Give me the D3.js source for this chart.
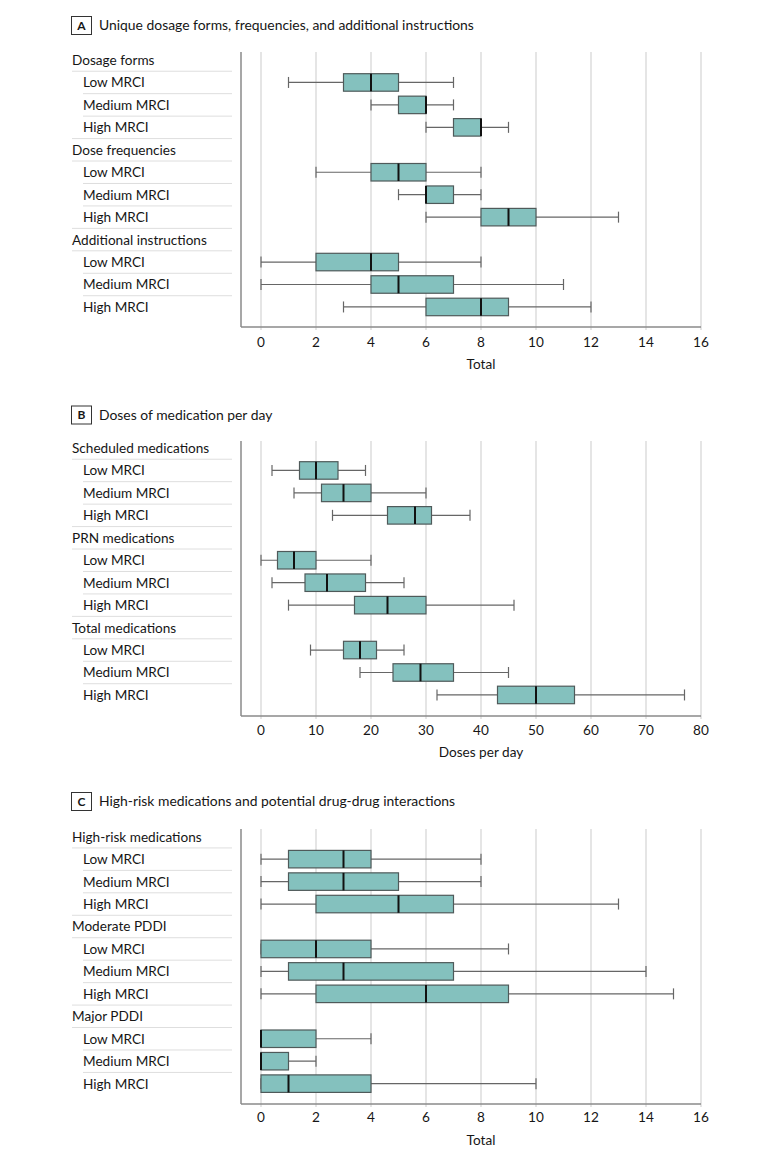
<!DOCTYPE html>
<html><head><meta charset="utf-8">
<script src="https://cdn.jsdelivr.net/npm/d3@7"></script>
<style>body{margin:0;background:#fff;} svg{display:block;}</style>
</head><body>
<svg id="chart" width="780" height="1158"></svg>
<script>
// ---------- data ----------
const panelLetters = ["A", "B", "C"];
const panelTitles = [
  "Unique dosage forms, frequencies, and additional instructions",
  "Doses of medication per day",
  "High-risk medications and potential drug-drug interactions"
];
const axisTitles = ["Total", "Doses per day", "Total"];
const subgroups = ["Low MRCI", "Medium MRCI", "High MRCI"];
const groupsA = ["Dosage forms", "Dose frequencies", "Additional instructions"];
const groupsB = ["Scheduled medications", "PRN medications", "Total medications"];
const groupsC = ["High-risk medications", "Moderate PDDI", "Major PDDI"];
// [whisker low, Q1, median, Q3, whisker high]
const statsA = [
  [1, 3, 4, 5, 7], [4, 5, 6, 6, 7], [6, 7, 8, 8, 9],
  [2, 4, 5, 6, 8], [5, 6, 6, 7, 8], [6, 8, 9, 10, 13],
  [0, 2, 4, 5, 8], [0, 4, 5, 7, 11], [3, 6, 8, 9, 12]
];
const statsB = [
  [2, 7, 10, 14, 19], [6, 11, 15, 20, 30], [13, 23, 28, 31, 38],
  [0, 3, 6, 10, 20], [2, 8, 12, 19, 26], [5, 17, 23, 30, 46],
  [9, 15, 18, 21, 26], [18, 24, 29, 35, 45], [32, 43, 50, 57, 77]
];
const statsC = [
  [0, 1, 3, 4, 8], [0, 1, 3, 5, 8], [0, 2, 5, 7, 13],
  [0, 0, 2, 4, 9], [0, 1, 3, 7, 14], [0, 2, 6, 9, 15],
  [0, 0, 0, 2, 4], [0, 0, 0, 1, 2], [0, 0, 1, 4, 10]
];
const ticksA = [0, 2, 4, 6, 8, 10, 12, 14, 16];
const ticksB = [0, 10, 20, 30, 40, 50, 60, 70, 80];
const ticksC = [0, 2, 4, 6, 8, 10, 12, 14, 16];

// ---------- layout ----------
const FONT = "Lato, 'Open Sans', sans-serif";
const TXT = "#161616";
const layouts = [
  {titleY: 25,    axisTop: 52,  row0: 60,    axisBottom: 327,  tickY: 342,  labelY: 364},
  {titleY: 414.5, axisTop: 441, row0: 448,   axisBottom: 716,  tickY: 730,  labelY: 752},
  {titleY: 801,   axisTop: 829, row0: 836.7, axisBottom: 1104, tickY: 1117, labelY: 1140}
];
const panels = [
  {groups: groupsA, stats: statsA, ticks: ticksA},
  {groups: groupsB, stats: statsB, ticks: ticksB},
  {groups: groupsC, stats: statsC, ticks: ticksC}
];

const svg = d3.select("#chart");
const axisLeft = 241, x0px = 261, xEnd = 701;
const dy = 1.5; // baseline correction for middle alignment

panels.forEach((p, pi) => {
  const L = layouts[pi];
  const g = svg.append("g");
  const tmax = p.ticks[p.ticks.length - 1];
  const x = d3.scaleLinear().domain([0, tmax]).range([x0px, xEnd]);
  const rows = [];
  p.groups.forEach((grp, gi) => {
    rows.push({label: grp, header: true});
    subgroups.forEach((s, si) => rows.push({label: s, header: false, stat: p.stats[gi * 3 + si]}));
  });
  const y = d3.scaleLinear().domain([0, rows.length - 1]).range([L.row0, L.row0 + (rows.length - 1) * 22.45]);

  // title
  const tg = g.append("g");
  tg.append("rect").attr("x", 71.5).attr("y", L.titleY - 8.5).attr("width", 20).attr("height", 18)
    .attr("fill", "none").attr("stroke", "#333").attr("stroke-width", 1);
  tg.append("text").attr("x", 81.5).attr("y", L.titleY + 1.5).attr("text-anchor", "middle")
    .attr("dominant-baseline", "middle").attr("font-family", FONT).attr("font-weight", "bold")
    .attr("font-size", 12).attr("fill", TXT).text(panelLetters[pi]);
  tg.append("text").attr("x", 99).attr("y", L.titleY + dy).attr("dominant-baseline", "middle")
    .attr("font-family", FONT).attr("font-size", 13.9).attr("fill", TXT).text(panelTitles[pi]);

  // grid lines
  g.selectAll(".grid").data(p.ticks).join("line")
    .attr("x1", d => x(d)).attr("x2", d => x(d))
    .attr("y1", L.axisTop).attr("y2", L.axisBottom + 3)
    .attr("stroke", "#dcdcdc").attr("stroke-width", 1.5);

  // separators in label column
  for (let i = 0; i < rows.length - 1; i++) {
    const yy = (y(i) + y(i + 1)) / 2;
    const start = (rows[i].header || rows[i + 1].header) ? 72 : 83;
    g.append("line").attr("x1", start).attr("x2", 232).attr("y1", yy).attr("y2", yy)
      .attr("stroke", "#dedede").attr("stroke-width", 1);
  }

  // labels
  g.selectAll(".lab").data(rows).join("text")
    .attr("x", d => d.header ? 72 : 83).attr("y", (d, i) => y(i) + dy)
    .attr("dominant-baseline", "middle").attr("font-family", FONT)
    .attr("font-size", 13.6).attr("fill", TXT).text(d => d.label);

  // axes lines
  g.append("line").attr("x1", axisLeft).attr("x2", axisLeft).attr("y1", L.axisTop).attr("y2", L.axisBottom)
    .attr("stroke", "#8a8a8a").attr("stroke-width", 1.5);
  g.append("line").attr("x1", axisLeft).attr("x2", xEnd).attr("y1", L.axisBottom).attr("y2", L.axisBottom)
    .attr("stroke", "#8a8a8a").attr("stroke-width", 1.5);

  // tick labels
  g.selectAll(".tick").data(p.ticks).join("text")
    .attr("x", d => x(d)).attr("y", L.tickY + dy).attr("text-anchor", "middle")
    .attr("dominant-baseline", "middle").attr("font-family", FONT).attr("font-size", 13.6)
    .attr("fill", TXT).text(d => d);
  g.append("text").attr("x", x(tmax / 2)).attr("y", L.labelY + dy).attr("text-anchor", "middle")
    .attr("dominant-baseline", "middle").attr("font-family", FONT).attr("font-size", 13.6)
    .attr("fill", TXT).text(axisTitles[pi]);

  // boxes
  const bh = 17.5, ch = 11;
  rows.forEach((r, i) => {
    if (r.header) return;
    const [lo, q1, md, q3, hi] = r.stat;
    const cy = y(i);
    const bg = g.append("g");
    bg.append("line").attr("x1", x(lo)).attr("x2", x(hi)).attr("y1", cy).attr("y2", cy)
      .attr("stroke", "#666").attr("stroke-width", 1.2);
    [lo, hi].forEach(v => bg.append("line").attr("x1", x(v)).attr("x2", x(v))
      .attr("y1", cy - ch / 2).attr("y2", cy + ch / 2).attr("stroke", "#666").attr("stroke-width", 1.2));
    bg.append("rect").attr("x", x(q1)).attr("y", cy - bh / 2).attr("width", x(q3) - x(q1)).attr("height", bh)
      .attr("fill", "#84c1be").attr("stroke", "#4f5a5a").attr("stroke-width", 1.2);
    bg.append("line").attr("x1", x(md)).attr("x2", x(md)).attr("y1", cy - bh / 2).attr("y2", cy + bh / 2)
      .attr("stroke", "#111").attr("stroke-width", 2);
  });
});
</script>
</body></html>
